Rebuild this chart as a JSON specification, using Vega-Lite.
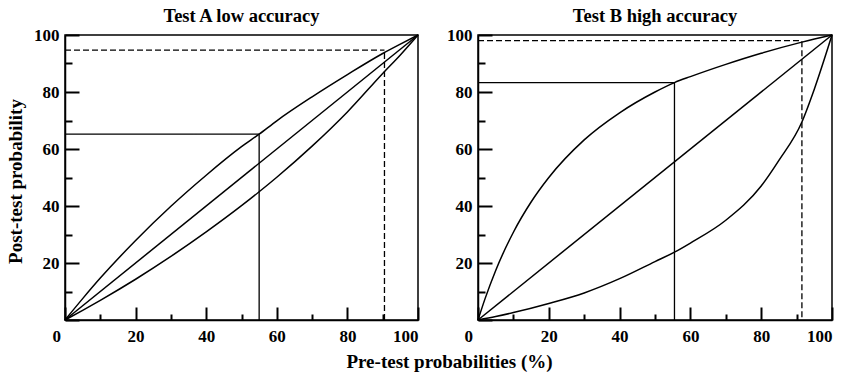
{
  "$schema": "https://vega.github.io/schema/vega-lite/v6.json",
  "padding": {"left": 5, "top": 5, "right": 3, "bottom": 2},
  "spacing": 23,
  "title": {"text": "Pre-test probabilities (%)", "orient": "bottom", "anchor": "middle", "dx": 29, "offset": 8, "font": "Liberation Serif", "fontSize": 19, "fontWeight": "bold", "color": "black"},
  "datasets": {
    "curves": [
      {"test": "A", "curve": "upper", "x": 0, "y": 0},
      {"test": "A", "curve": "upper", "x": 5, "y": 7.5},
      {"test": "A", "curve": "upper", "x": 10, "y": 14.7},
      {"test": "A", "curve": "upper", "x": 20, "y": 27.9},
      {"test": "A", "curve": "upper", "x": 30, "y": 39.9},
      {"test": "A", "curve": "upper", "x": 40, "y": 50.8},
      {"test": "A", "curve": "upper", "x": 50, "y": 60.8},
      {"test": "A", "curve": "upper", "x": 55, "y": 65.2},
      {"test": "A", "curve": "upper", "x": 60, "y": 69.9},
      {"test": "A", "curve": "upper", "x": 70, "y": 78.3},
      {"test": "A", "curve": "upper", "x": 80, "y": 86.1},
      {"test": "A", "curve": "upper", "x": 90, "y": 93.5},
      {"test": "A", "curve": "upper", "x": 95, "y": 96.8},
      {"test": "A", "curve": "upper", "x": 100, "y": 100},
      {"test": "A", "curve": "diag", "x": 0, "y": 0},
      {"test": "A", "curve": "diag", "x": 100, "y": 100},
      {"test": "A", "curve": "lower", "x": 0, "y": 0},
      {"test": "A", "curve": "lower", "x": 5, "y": 3.4},
      {"test": "A", "curve": "lower", "x": 10, "y": 6.9},
      {"test": "A", "curve": "lower", "x": 20, "y": 14.3},
      {"test": "A", "curve": "lower", "x": 30, "y": 22.3},
      {"test": "A", "curve": "lower", "x": 40, "y": 30.9},
      {"test": "A", "curve": "lower", "x": 50, "y": 40.1},
      {"test": "A", "curve": "lower", "x": 55, "y": 45},
      {"test": "A", "curve": "lower", "x": 60, "y": 50.1},
      {"test": "A", "curve": "lower", "x": 70, "y": 61},
      {"test": "A", "curve": "lower", "x": 80, "y": 73},
      {"test": "A", "curve": "lower", "x": 90, "y": 86.5},
      {"test": "A", "curve": "lower", "x": 95, "y": 93},
      {"test": "A", "curve": "lower", "x": 100, "y": 100},
      {"test": "B", "curve": "upper", "x": 0, "y": 0},
      {"test": "B", "curve": "upper", "x": 2, "y": 7.5},
      {"test": "B", "curve": "upper", "x": 5, "y": 17.4},
      {"test": "B", "curve": "upper", "x": 10, "y": 30.8},
      {"test": "B", "curve": "upper", "x": 15, "y": 41.4},
      {"test": "B", "curve": "upper", "x": 20, "y": 50},
      {"test": "B", "curve": "upper", "x": 30, "y": 63.2},
      {"test": "B", "curve": "upper", "x": 40, "y": 72.7},
      {"test": "B", "curve": "upper", "x": 50, "y": 80},
      {"test": "B", "curve": "upper", "x": 55.5, "y": 83.3},
      {"test": "B", "curve": "upper", "x": 60, "y": 85.4},
      {"test": "B", "curve": "upper", "x": 70, "y": 89.7},
      {"test": "B", "curve": "upper", "x": 80, "y": 93.6},
      {"test": "B", "curve": "upper", "x": 91.5, "y": 97.5},
      {"test": "B", "curve": "upper", "x": 100, "y": 100},
      {"test": "B", "curve": "diag", "x": 0, "y": 0},
      {"test": "B", "curve": "diag", "x": 100, "y": 100},
      {"test": "B", "curve": "lower", "x": 0, "y": 0},
      {"test": "B", "curve": "lower", "x": 5, "y": 1.2},
      {"test": "B", "curve": "lower", "x": 10, "y": 2.6},
      {"test": "B", "curve": "lower", "x": 20, "y": 5.8},
      {"test": "B", "curve": "lower", "x": 30, "y": 9.5},
      {"test": "B", "curve": "lower", "x": 40, "y": 14.5},
      {"test": "B", "curve": "lower", "x": 50, "y": 20.5},
      {"test": "B", "curve": "lower", "x": 55.5, "y": 23.8},
      {"test": "B", "curve": "lower", "x": 60, "y": 27},
      {"test": "B", "curve": "lower", "x": 70, "y": 35},
      {"test": "B", "curve": "lower", "x": 80, "y": 47},
      {"test": "B", "curve": "lower", "x": 85, "y": 56},
      {"test": "B", "curve": "lower", "x": 91.5, "y": 69.5},
      {"test": "B", "curve": "lower", "x": 95, "y": 81},
      {"test": "B", "curve": "lower", "x": 100, "y": 100}
    ],
    "refs": [
      {"test": "A", "kind": "solid", "x": 0, "x2": 55, "y": 65.2, "y2": 65.2},
      {"test": "A", "kind": "solid", "x": 55, "x2": 55, "y": 0, "y2": 65.2},
      {"test": "A", "kind": "dashed", "x": 0, "x2": 90.5, "y": 94.7, "y2": 94.7},
      {"test": "A", "kind": "dashed", "x": 90.5, "x2": 90.5, "y": 0, "y2": 94.7},
      {"test": "B", "kind": "solid", "x": 0, "x2": 55.5, "y": 83.3, "y2": 83.3},
      {"test": "B", "kind": "solid", "x": 55.5, "x2": 55.5, "y": 0, "y2": 83.3},
      {"test": "B", "kind": "dashed", "x": 0, "x2": 91.5, "y": 98, "y2": 98},
      {"test": "B", "kind": "dashed", "x": 91.5, "x2": 91.5, "y": 1, "y2": 98}
    ]
  },
  "config": {
    "font": "Liberation Serif",
    "view": {"stroke": "black", "strokeWidth": 1.5},
    "axis": {
      "domainColor": "black", "domainWidth": 1.5,
      "labelColor": "black", "labelFont": "Liberation Serif", "labelFontSize": 17, "labelFontWeight": "bold",
      "grid": false,
      "titleColor": "black", "titleFont": "Liberation Serif", "titleFontSize": 19, "titleFontWeight": "bold"
    },
    "title": {"font": "Liberation Serif", "fontSize": 18.5, "fontWeight": "bold", "color": "black", "offset": 1}
  },
  "hconcat": [
    {
      "title": "Test A low accuracy",
      "width": 353, "height": 285,
      "layer": [
        {
          "data": {"name": "curves"},
          "transform": [{"filter": "datum.test === 'A'"}],
          "mark": {"type": "line", "interpolate": "monotone", "color": "black", "strokeWidth": 1.5},
          "encoding": {
            "x": {"field": "x", "type": "quantitative", "scale": {"domain": [0, 100], "nice": false},
              "axis": {"title": null,
                "labelExpr": "datum.value % 20 == 0 ? datum.label : ''",
                "tickColor": "black", "tickWidth": 2,
                "tickSize": {"condition": {"test": "datum.value % 20 == 0", "value": -13}, "value": -6},
                "labelOffset": {"condition": {"test": "datum.value == 0", "value": -13}, "value": 0},
                "labelPadding": 21}},
            "y": {"field": "y", "type": "quantitative", "scale": {"domain": [0, 100], "nice": false},
              "axis": {"title": "Post-test probability",
                "labelExpr": "datum.value % 20 == 0 && datum.value > 0 ? datum.label : ''",
                "tickColor": "black", "tickWidth": 2,
                "tickSize": {"condition": {"test": "datum.value % 20 == 0", "value": -14}, "value": -7},
                "labelAlign": "right", "labelPadding": 20, "titleX": -40, "titleY": 146}},
            "detail": {"field": "curve"},
            "order": {"field": "x", "type": "quantitative"}
          }
        },
        {
          "data": {"name": "refs"},
          "transform": [{"filter": "datum.test === 'A'"}],
          "mark": {"type": "rule", "color": "black", "strokeWidth": 1.3},
          "encoding": {
            "x": {"field": "x", "type": "quantitative"},
            "x2": {"field": "x2"},
            "y": {"field": "y", "type": "quantitative"},
            "y2": {"field": "y2"},
            "strokeDash": {"field": "kind", "type": "nominal", "scale": {"domain": ["solid", "dashed"], "range": [[1, 0], [6, 3]]}, "legend": null}
          }
        }
      ]
    },
    {
      "title": "Test B high accuracy",
      "width": 354, "height": 285,
      "layer": [
        {
          "data": {"name": "curves"},
          "transform": [{"filter": "datum.test === 'B'"}],
          "mark": {"type": "line", "interpolate": "monotone", "color": "black", "strokeWidth": 1.5},
          "encoding": {
            "x": {"field": "x", "type": "quantitative", "scale": {"domain": [0, 100], "nice": false},
              "axis": {"title": null,
                "labelExpr": "datum.value % 20 == 0 ? datum.label : ''",
                "tickColor": "black", "tickWidth": 2,
                "tickSize": {"condition": {"test": "datum.value % 20 == 0", "value": -13}, "value": -6},
                "labelOffset": {"condition": {"test": "datum.value == 0", "value": -14}, "value": 0},
                "labelPadding": 21}},
            "y": {"field": "y", "type": "quantitative", "scale": {"domain": [0, 100], "nice": false},
              "axis": {"title": null,
                "labelExpr": "datum.value % 20 == 0 && datum.value > 0 ? datum.label : ''",
                "tickColor": "black", "tickWidth": 2,
                "tickSize": {"condition": {"test": "datum.value % 20 == 0", "value": -14}, "value": -7},
                "labelAlign": "right", "labelPadding": 20}},
            "detail": {"field": "curve"},
            "order": {"field": "x", "type": "quantitative"}
          }
        },
        {
          "data": {"name": "refs"},
          "transform": [{"filter": "datum.test === 'B'"}],
          "mark": {"type": "rule", "color": "black", "strokeWidth": 1.3},
          "encoding": {
            "x": {"field": "x", "type": "quantitative"},
            "x2": {"field": "x2"},
            "y": {"field": "y", "type": "quantitative"},
            "y2": {"field": "y2"},
            "strokeDash": {"field": "kind", "type": "nominal", "scale": {"domain": ["solid", "dashed"], "range": [[1, 0], [6, 3]]}, "legend": null}
          }
        }
      ]
    }
  ]
}
